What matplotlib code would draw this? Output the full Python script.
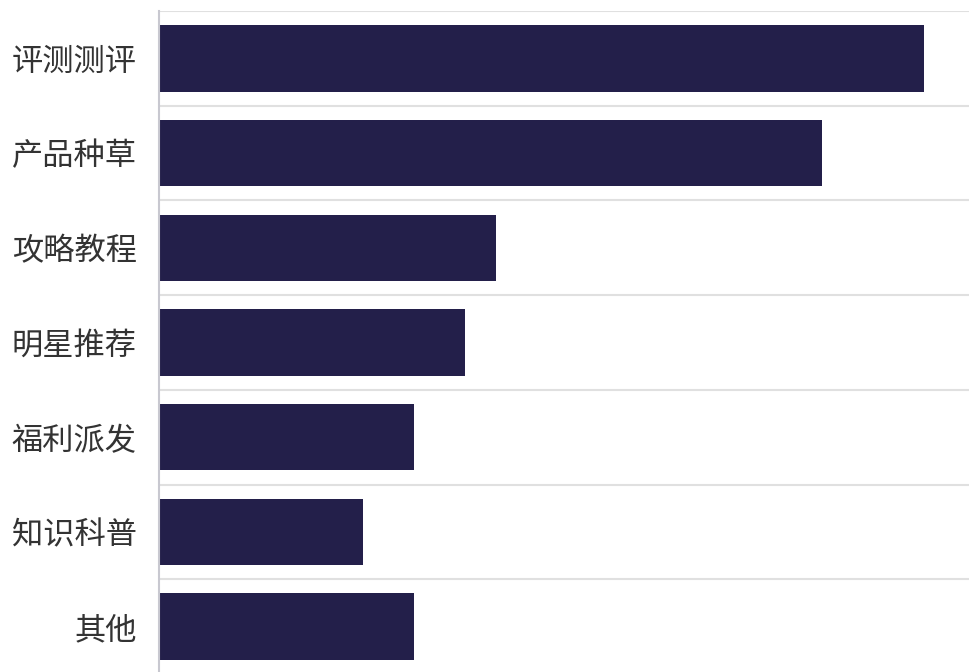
import matplotlib.pyplot as plt
import numpy as np

plt.rcParams['font.family'] = ['Noto Sans CJK SC', 'DejaVu Sans']

# data (top to bottom)
categories = ['评测测评', '产品种草', '攻略教程', '明星推荐', '福利派发', '知识科普', '其他']
values = [15, 13, 6.6, 6, 5, 4, 5]

bar_color = '#231f4a'
grid_color = '#e0e0e0'

fig = plt.figure(figsize=(9.7, 6.72), dpi=100)
ax = fig.add_axes([159 / 970, -2 / 672, 811 / 970, 663 / 672])

y = np.arange(len(categories))
ax.barh(y, values, height=0.7, color=bar_color, zorder=3)

# band separators
for b in np.arange(len(categories) + 1) - 0.5:
    ax.axhline(b, color=grid_color, lw=1.5, zorder=1)

ax.set_xlim(0, 15.9)
ax.set_ylim(len(categories) - 0.5, -0.5)

ax.set_yticks(y)
ax.set_yticklabels(categories, fontsize=22.5, color='#333333')
ax.tick_params(axis='y', length=0, pad=16)
ax.set_xticks([])

for s in ['top', 'right', 'bottom']:
    ax.spines[s].set_visible(False)
ax.spines['left'].set_color('#c8c8d0')
ax.spines['left'].set_linewidth(1.5)
ax.spines['left'].set_zorder(4)

fig.savefig('out.png', dpi=100)
